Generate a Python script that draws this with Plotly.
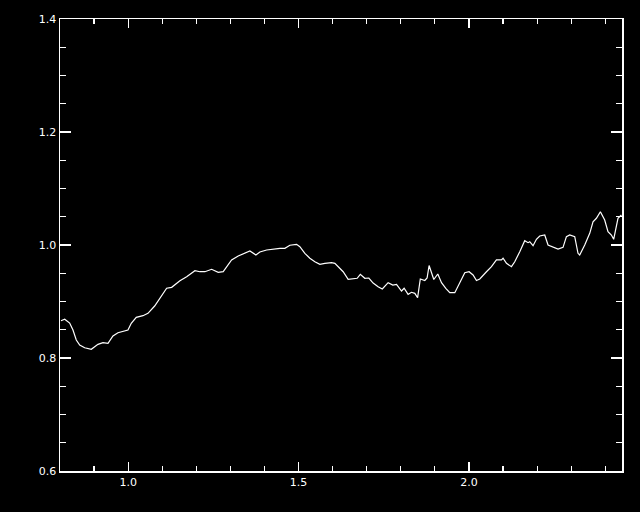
import plotly.graph_objects as go

wavelength = [0.8029, 0.8138, 0.8284, 0.8381, 0.8478, 0.8578, 0.8724, 0.8918, 0.9114, 0.9261,
              0.9408, 0.9554, 0.9701, 0.9994, 1.0091, 1.0238, 1.0434, 1.0581, 1.0777, 1.0933,
              1.1129, 1.1276, 1.1519, 1.1716, 1.1959, 1.2106, 1.2252, 1.2449, 1.2642, 1.2789,
              1.3035, 1.3229, 1.3425, 1.3572, 1.3748, 1.3865, 1.4062, 1.4255, 1.4452, 1.4598,
              1.4745, 1.4941, 1.5038, 1.5185, 1.5331, 1.5478, 1.5625, 1.5771, 1.5968, 1.6065,
              1.6161, 1.6308, 1.6455, 1.6601, 1.6719, 1.6812, 1.6944, 1.7062, 1.7188, 1.7334,
              1.7457, 1.7628, 1.7765, 1.7874, 1.8021, 1.8097, 1.8214, 1.8314, 1.8411, 1.8493,
              1.8572, 1.8704, 1.8771, 1.8830, 1.8900, 1.8968, 1.9085, 1.9194, 1.9320, 1.9437,
              1.9584, 1.9730, 1.9877, 2.0003, 2.0120, 2.0220, 2.0317, 2.0513, 2.0660, 2.0806,
              2.0953, 2.1000, 2.1100, 2.1246, 2.1343, 2.1490, 2.1636, 2.1733, 2.1783, 2.1880,
              2.1979, 2.2076, 2.2223, 2.2320, 2.2466, 2.2613, 2.2760, 2.2859, 2.2956, 2.3103,
              2.3199, 2.3249, 2.3396, 2.3543, 2.3639, 2.3739, 2.3856, 2.3982, 2.4079, 2.4179,
              2.4246, 2.4326, 2.4372, 2.4472]

flux = [0.8660, 0.8685, 0.8619, 0.8496, 0.8319, 0.8230, 0.8182, 0.8154, 0.8242, 0.8271,
        0.8260, 0.8389, 0.8448, 0.8496, 0.8614, 0.8720, 0.8749, 0.8791, 0.8920, 0.9057,
        0.9234, 0.9251, 0.9368, 0.9439, 0.9545, 0.9527, 0.9527, 0.9570, 0.9517, 0.9527,
        0.9735, 0.9805, 0.9853, 0.9894, 0.9823, 0.9876, 0.9912, 0.9929, 0.9942, 0.9942,
        0.9995, 1.0012, 0.9970, 0.9853, 0.9765, 0.9704, 0.9658, 0.9676, 0.9687, 0.9676,
        0.9616, 0.9527, 0.9393, 0.9407, 0.9411, 0.9481, 0.9411, 0.9416, 0.9327, 0.9262,
        0.9221, 0.9333, 0.9292, 0.9304, 0.9186, 0.9234, 0.9127, 0.9163, 0.9145, 0.9067,
        0.9398, 0.9372, 0.9416, 0.9637, 0.9487, 0.9389, 0.9487, 0.9333, 0.9234, 0.9156,
        0.9156, 0.9322, 0.9510, 0.9527, 0.9469, 0.9372, 0.9398, 0.9527, 0.9616, 0.9735,
        0.9735, 0.9765, 0.9676, 0.9616, 0.9704, 0.9881, 1.0076, 1.0041, 1.0058, 0.9988,
        1.0101, 1.0159, 1.0177, 1.0000, 0.9970, 0.9929, 0.9959, 1.0147, 1.0177, 1.0147,
        0.9853, 0.9823, 1.0000, 1.0207, 1.0412, 1.0473, 1.0589, 1.0442, 1.0235, 1.0177,
        1.0101, 1.0354, 1.0473, 1.0531]

x_range = [0.8, 2.449]
y_range = [0.6, 1.4]
x_tickvals = [1.0, 1.5, 2.0]
x_ticktext = ["1.0", "1.5", "2.0"]
y_tickvals = [0.6, 0.8, 1.0, 1.2, 1.4]
y_ticktext = ["0.6", "0.8", "1.0", "1.2", "1.4"]

fig = go.Figure()
fig.add_trace(go.Scatter(x=wavelength, y=flux, mode="lines",
                         line=dict(color="white", width=1.2),
                         showlegend=False, hoverinfo="skip"))
# invisible trace to anchor the mirrored (top/right) tick axes
fig.add_trace(go.Scatter(x=x_range, y=y_range, mode="lines", xaxis="x2", yaxis="y2",
                         line=dict(color="rgba(0,0,0,0)", width=0),
                         showlegend=False, hoverinfo="skip"))

axis_common = dict(
    showgrid=False, zeroline=False, showline=True, linecolor="white", linewidth=1.5,
    ticks="inside", tickcolor="white", tickwidth=1.2,
    tickfont=dict(color="white", size=11, family="DejaVu Sans"),
)
x_minor = dict(ticks="inside", dtick=0.1, tick0=0.0, ticklen=5,
               tickcolor="white", tickwidth=1.2, showgrid=False)
y_minor = dict(ticks="inside", dtick=0.05, tick0=0.0, ticklen=6,
               tickcolor="white", tickwidth=1.2, showgrid=False)

fig.update_layout(
    width=640, height=512,
    margin=dict(l=60, r=18, t=19, b=41),
    paper_bgcolor="black", plot_bgcolor="black",
    xaxis=dict(range=x_range, tickmode="array", tickvals=x_tickvals, ticktext=x_ticktext,
               ticklen=9, minor=x_minor, **axis_common),
    yaxis=dict(range=y_range, tickmode="array", tickvals=y_tickvals, ticktext=y_ticktext,
               ticklen=11, minor=y_minor, **axis_common),
    xaxis2=dict(range=x_range, overlaying="x", side="top", anchor="y",
                tickmode="array", tickvals=x_tickvals, showticklabels=False,
                ticklen=9, minor=x_minor, **axis_common),
    yaxis2=dict(range=y_range, overlaying="y", side="right", anchor="x",
                tickmode="array", tickvals=y_tickvals, showticklabels=False,
                ticklen=11, minor=y_minor, **axis_common),
)

fig.write_html("out.html",
               config={"displayModeBar": False, "staticPlot": True},
               post_script="document.body.style.margin='0';"
                           "document.body.style.background='black';"
                           "document.body.style.overflow='hidden';")
